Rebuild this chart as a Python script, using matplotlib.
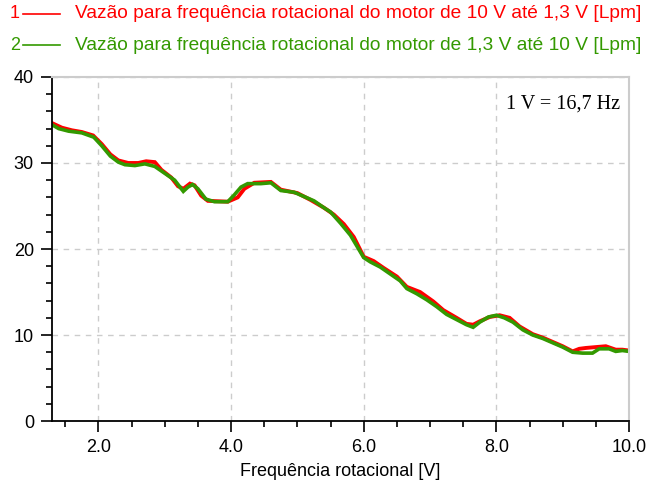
import numpy as np
import matplotlib
matplotlib.use('Agg')
import matplotlib.pyplot as plt
from matplotlib.lines import Line2D
from matplotlib.ticker import MultipleLocator, FormatStrFormatter

# vazão [Lpm] vs frequência rotacional [V], descendo 10 V -> 1,3 V
x_desce = [1.31, 1.45, 1.60, 1.75, 1.92, 2.05, 2.18, 2.30, 2.45, 2.60, 2.72, 2.85,
           2.95, 3.10, 3.20, 3.28, 3.38, 3.45, 3.55, 3.65, 3.95, 4.10, 4.20, 4.35,
           4.60, 4.75, 5.00, 5.20, 5.40, 5.55, 5.70, 5.85, 6.00, 6.15, 6.30, 6.50,
           6.65, 6.85, 7.05, 7.20, 7.40, 7.55, 7.65, 7.75, 7.90, 8.05, 8.20, 8.35,
           8.55, 8.70, 8.85, 9.00, 9.15, 9.25, 9.35, 9.50, 9.65, 9.80, 9.90, 10.0]
y_desce = [34.6, 34.1, 33.8, 33.6, 33.2, 32.2, 31.0, 30.3, 30.0, 30.0, 30.2, 30.1,
           29.2, 28.3, 27.3, 27.0, 27.6, 27.4, 26.2, 25.6, 25.5, 26.0, 27.0, 27.7,
           27.8, 26.9, 26.5, 25.7, 24.8, 24.0, 22.9, 21.4, 19.1, 18.6, 17.8, 16.8,
           15.6, 15.0, 13.9, 12.9, 12.0, 11.3, 11.2, 11.6, 12.1, 12.3, 12.0, 11.0,
           10.1, 9.7, 9.2, 8.7, 8.1, 8.4, 8.5, 8.6, 8.7, 8.3, 8.3, 8.2]

# subindo 1,3 V -> 10 V
x_sobe = [1.31, 1.40, 1.55, 1.75, 1.93, 2.05, 2.18, 2.30, 2.40, 2.55, 2.70, 2.85,
          3.00, 3.15, 3.28, 3.35, 3.42, 3.50, 3.62, 3.75, 3.95, 4.05, 4.15, 4.25,
          4.45, 4.60, 4.75, 4.95, 5.10, 5.25, 5.40, 5.50, 5.65, 5.80, 5.90, 6.00,
          6.10, 6.25, 6.40, 6.55, 6.65, 6.80, 6.95, 7.10, 7.25, 7.40, 7.55, 7.65,
          7.75, 7.88, 8.00, 8.12, 8.25, 8.40, 8.55, 8.70, 8.85, 9.00, 9.15, 9.30,
          9.45, 9.55, 9.70, 9.80, 9.90, 10.0]
y_sobe = [34.4, 34.0, 33.7, 33.5, 33.0, 32.0, 30.8, 30.1, 29.8, 29.7, 29.9, 29.6,
          28.8, 28.0, 26.7, 27.2, 27.5, 27.0, 25.8, 25.5, 25.5, 26.3, 27.2, 27.6,
          27.6, 27.7, 26.8, 26.6, 26.1, 25.6, 24.8, 24.3, 23.0, 21.6, 20.3, 19.0,
          18.5, 17.9, 17.1, 16.3, 15.4, 14.8, 14.1, 13.3, 12.4, 11.8, 11.2, 10.9,
          11.5, 12.1, 12.3, 12.0, 11.5, 10.6, 10.0, 9.6, 9.1, 8.6, 8.0, 7.9,
          7.9, 8.4, 8.4, 8.1, 8.2, 8.1]

legenda = ['Vazão para frequência rotacional do motor de 10 V até 1,3 V [Lpm]',
           'Vazão para frequência rotacional do motor de 1,3 V até 10 V [Lpm]']
cores = ['#ff0000', '#339900']

plt.rcParams['font.family'] = ['Liberation Sans', 'DejaVu Sans']

fig = plt.figure(figsize=(6.5, 4.84), dpi=100)
ax = fig.add_axes([0.08, 0.130, 0.8877, 0.711])

ax.plot(x_desce, y_desce, color=cores[0], lw=2.8, solid_joinstyle='miter')
ax.plot(x_sobe, y_sobe, color=cores[1], lw=2.6, solid_joinstyle='miter')

ax.set_xlim(1.3, 10.0)
ax.set_ylim(0, 40)
ax.xaxis.set_major_locator(MultipleLocator(2.0))
ax.xaxis.set_minor_locator(MultipleLocator(0.5))
ax.xaxis.set_major_formatter(FormatStrFormatter('%.1f'))
ax.yaxis.set_major_locator(MultipleLocator(10))
ax.yaxis.set_minor_locator(MultipleLocator(2))
ax.tick_params(which='major', length=8, width=1.2, labelsize=13, pad=5)
ax.tick_params(which='minor', length=4, width=1.2)
ax.grid(True, which='major', color='#cccccc', ls=(0, (4, 4)), lw=1)

for lado in ['top', 'right']:
    ax.spines[lado].set_color('#cccccc')
    ax.spines[lado].set_linewidth(1.5)
for lado in ['left', 'bottom']:
    ax.spines[lado].set_linewidth(1.3)

ax.set_xlabel('Frequência rotacional [V]', fontsize=13, labelpad=5)

ax.text(0.985, 0.95, '1 V = 16,7 Hz', transform=ax.transAxes, ha='right', va='top',
        fontsize=14.5, family='Liberation Serif')

# legenda no topo
for i, (txt, c) in enumerate(zip(legenda, cores)):
    y = 0.972 - i * 0.066
    fig.text(0.015, y, str(i + 1), color=c, fontsize=13, va='center')
    fig.add_artist(Line2D([0.035, 0.092], [y, y], color=c, lw=1.2,
                          transform=fig.transFigure))
    fig.text(0.115, y, txt, color=c, fontsize=13.8, va='center')

fig.savefig('out.png', dpi=100, facecolor='white')
